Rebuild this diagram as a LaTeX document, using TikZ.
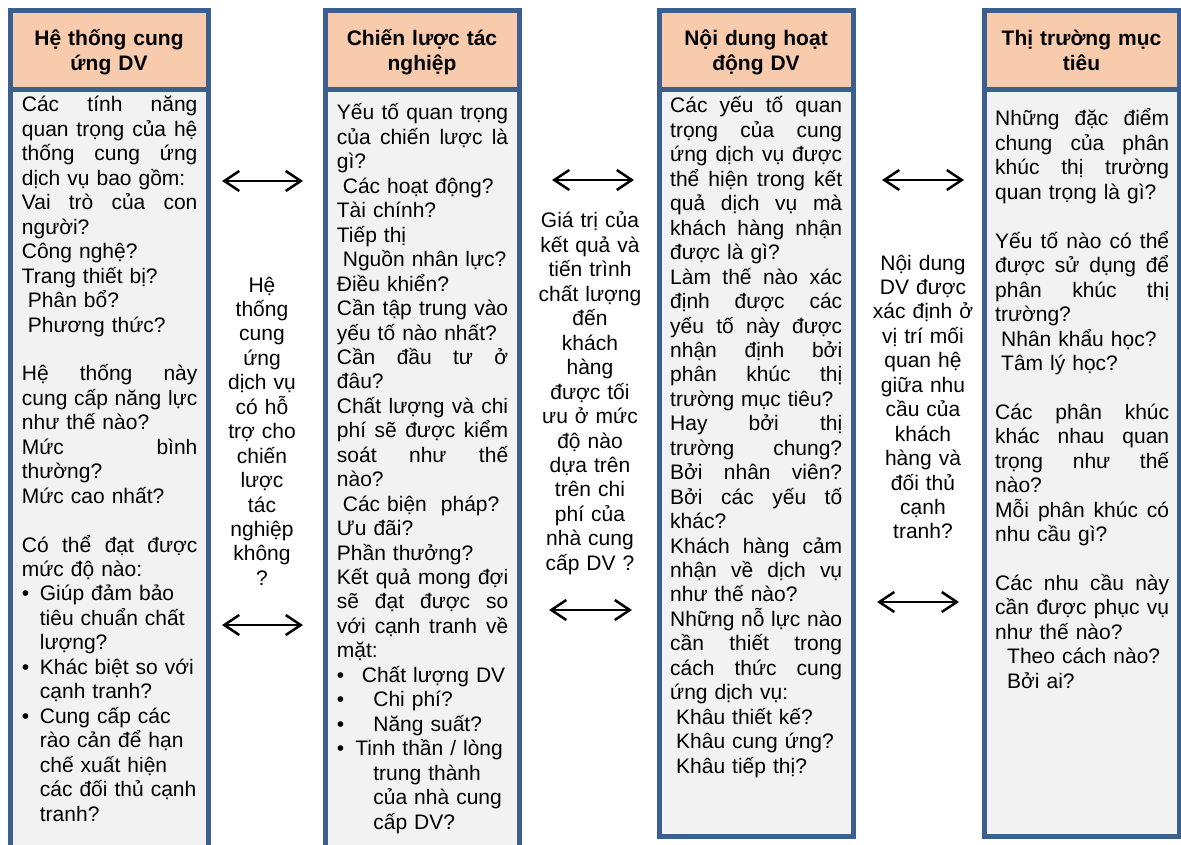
\documentclass[tikz,border=0pt]{standalone}
\usepackage{fontspec}
\setmainfont{Liberation Sans}
\usetikzlibrary{arrows.meta}

\definecolor{frameblue}{HTML}{3B5F8E}
\definecolor{headfill}{HTML}{F8CBAD}
\definecolor{bodyfill}{HTML}{F2F2F2}

% a line stretched to the full column width
\newcommand{\J}[1]{\leavevmode\hbox to \hsize{\spaceskip=0.278em plus 1fil\relax #1}}
% fixed indent at the start of a line
\newcommand{\ind}[1]{\hspace*{#1pt}}
% bullet followed by a hanging indent
\newcommand{\bul}[1]{\makebox[#1pt][l]{•}}

\tikzset{
  panel/.style={draw=frameblue, line width=5pt},
  headbox/.style={panel, fill=headfill},
  bodybox/.style={panel, fill=bodyfill},
  headtext/.style={font=\bfseries\fontsize{21}{25}\selectfont, align=center,
    text width=190pt, anchor=base, inner sep=0pt},
  bodytext/.style={font=\fontsize{21}{24.45}\selectfont, align=left,
    anchor=base west, inner sep=0pt},
  midtext/.style={font=\fontsize{21}{24.45}\selectfont, align=center,
    text width=110pt, anchor=base, inner sep=0pt},
  link/.style={{Straight Barb[length=15pt,width=20pt]}-{Straight Barb[length=15pt,width=20pt]},
    line width=2.5pt, black}
}

\begin{document}
\begin{tikzpicture}[x=1pt,y=-1pt]
\useasboundingbox (0,0) rectangle (1181,845);

% column frames
\draw[bodybox] (10,89.5) rectangle (208,870);
\draw[headbox] (10,10.5) rectangle (208,89.5);
\draw[bodybox] (325.5,89.5) rectangle (519,870);
\draw[headbox] (325.5,10.5) rectangle (519,89.5);
\draw[bodybox] (659,89.5) rectangle (853.5,836);
\draw[headbox] (659,10.5) rectangle (853.5,89.5);
\draw[bodybox] (984,89.5) rectangle (1179,836);
\draw[headbox] (984,10.5) rectangle (1179,89.5);

% headings
\node[headtext] (h1) at (109,46) {Hệ thống cung\\ứng DV};
\node[headtext] (h2) at (422,46) {Chiến lược tác\\nghiệp};
\node[headtext] (h3) at (756,46) {Nội dung hoạt\\động DV};
\node[headtext] (h4) at (1081.5,46) {Thị trường mục\\tiêu};

% column 1
\node[bodytext, text width=175.5pt] (b1) at (21.7,112) {%
\J{Các tính năng}\\
\J{quan trọng của hệ}\\
\J{thống cung ứng}\\
dịch vụ bao gồm:\\
\J{Vai trò của con}\\
người?\\
Công nghệ?\\
Trang thiết bị?\\
\ind{6}Phân bổ?\\
\ind{6}Phương thức?\\
\mbox{}\\
\J{Hệ thống này}\\
\J{cung cấp năng lực}\\
như thế nào?\\
\J{Mức bình}\\
thường?\\
Mức cao nhất?\\
\mbox{}\\
\J{Có thể đạt được}\\
mức độ nào:\\
\bul{18}Giúp đảm bảo\\
\ind{18}tiêu chuẩn chất\\
\ind{18}lượng?\\
\bul{18}Khác biệt so với\\
\ind{18}cạnh tranh?\\
\bul{18}Cung cấp các\\
\ind{18}rào cản để hạn\\
\ind{18}chế xuất hiện\\
\ind{18}các đối thủ cạnh\\
\ind{18}tranh?};

% column 2
\node[bodytext, text width=171.3pt] (b2) at (336.7,120) {%
\J{Yếu tố quan trọng}\\
\J{của chiến lược là}\\
gì?\\
\ind{6}Các hoạt động?\\
Tài chính?\\
Tiếp thị\\
\ind{6}Nguồn nhân lực?\\
Điều khiển?\\
\J{Cần tập trung vào}\\
yếu tố nào nhất?\\
\J{Cần đầu tư ở}\\
đâu?\\
\J{Chất lượng và chi}\\
\J{phí sẽ được kiểm}\\
\J{soát như thế}\\
nào?\\
\ind{6}Các biện~~pháp?\\
Ưu đãi?\\
Phần thưởng?\\
\J{Kết quả mong đợi}\\
\J{sẽ đạt được so}\\
\J{với cạnh tranh về}\\
mặt:\\
\bul{25}Chất lượng DV\\
\bul{36.5}Chi phí?\\
\bul{36.5}Năng suất?\\
\bul{18.5}Tinh thần / lòng\\
\ind{36.5}trung thành\\
\ind{36.5}của nhà cung\\
\ind{36.5}cấp DV?};

% column 3
\node[bodytext, text width=172pt] (b3) at (670,113) {%
\J{Các yếu tố quan}\\
\J{trọng của cung}\\
\J{ứng dịch vụ được}\\
\J{thể hiện trong kết}\\
\J{quả dịch vụ mà}\\
\J{khách hàng nhận}\\
được là gì?\\
\J{Làm thế nào xác}\\
\J{định được các}\\
\J{yếu tố này được}\\
\J{nhận định bởi}\\
\J{phân khúc thị}\\
trường mục tiêu?\\
\J{Hay bởi thị}\\
\J{trường chung?}\\
\J{Bởi nhân viên?}\\
\J{Bởi các yếu tố}\\
khác?\\
\J{Khách hàng cảm}\\
\J{nhận về dịch vụ}\\
như thế nào?\\
\J{Những nỗ lực nào}\\
\J{cần thiết trong}\\
\J{cách thức cung}\\
ứng dịch vụ:\\
\ind{6}Khâu thiết kế?\\
\ind{6}Khâu cung ứng?\\
\ind{6}Khâu tiếp thị?};

% column 4
\node[bodytext, text width=174pt] (b4) at (995,126) {%
\J{Những đặc điểm}\\
\J{chung của phân}\\
\J{khúc thị trường}\\
quan trọng là gì?\\
\mbox{}\\
\J{Yếu tố nào có thể}\\
\J{được sử dụng để}\\
\J{phân khúc thị}\\
trường?\\
\ind{6}Nhân khẩu học?\\
\ind{6}Tâm lý học?\\
\mbox{}\\
\J{Các phân khúc}\\
\J{khác nhau quan}\\
\J{trọng như thế}\\
nào?\\
\J{Mỗi phân khúc có}\\
nhu cầu gì?\\
\mbox{}\\
\J{Các nhu cầu này}\\
\J{cần được phục vụ}\\
như thế nào?\\
\ind{12}Theo cách nào?\\
\ind{12}Bởi ai?};

% questions between the columns
\node[midtext] (m1) at (262,292) {Hệ\\thống\\cung\\ứng\\dịch vụ\\có hỗ\\trợ cho\\chiến\\lược\\tác\\nghiệp\\không\\?};
\node[midtext] (m2) at (590,228) {Giá trị của\\kết quả và\\tiến trình\\chất lượng\\đến\\khách\\hàng\\được tối\\ưu ở mức\\độ nào\\dựa trên\\trên chi\\phí của\\nhà cung\\cấp DV ?};
\node[midtext] (m3) at (923,270) {Nội dung\\DV được\\xác định ở\\vị trí mối\\quan hệ\\giữa nhu\\cầu của\\khách\\hàng và\\đối thủ\\cạnh\\tranh?};

% two-way arrows
\coordinate (a1l) at (222,181);  \coordinate (a1r) at (303,181);
\coordinate (a2l) at (222,625);  \coordinate (a2r) at (303,625);
\coordinate (a3l) at (552,180);  \coordinate (a3r) at (634,180);
\coordinate (a4l) at (549,610);  \coordinate (a4r) at (632,610);
\coordinate (a5l) at (882,180);  \coordinate (a5r) at (964,180);
\coordinate (a6l) at (877,602);  \coordinate (a6r) at (959,602);
\draw[link] (a1l) -- (a1r);
\draw[link] (a2l) -- (a2r);
\draw[link] (a3l) -- (a3r);
\draw[link] (a4l) -- (a4r);
\draw[link] (a5l) -- (a5r);
\draw[link] (a6l) -- (a6r);
\end{tikzpicture}
\end{document}
